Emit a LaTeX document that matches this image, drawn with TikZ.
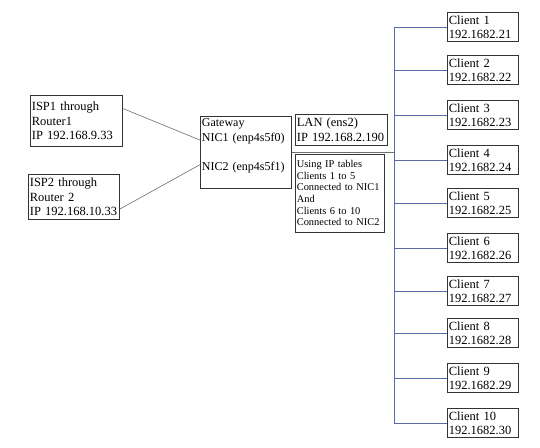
\documentclass[tikz,border=0pt]{standalone}
\usepackage{fontspec}
\setmainfont{Liberation Serif}
\usetikzlibrary{positioning}
\definecolor{netBorder}{HTML}{333333}
\definecolor{netUplink}{HTML}{6E6E6E}
\definecolor{netBus}{HTML}{5A6CA6}

\begin{document}
\begin{tikzpicture}[x=1pt, y=-1pt,
    netbox/.style={draw=netBorder, line width=0.7pt, fill=white, anchor=north west, align=left, inner xsep=1.5pt, inner ysep=1pt, font=\fontsize{12.5}{14.5}\selectfont},
    clientbox/.style={netbox, text width=68pt, minimum height=29pt, font=\fontsize{12.5}{14}\selectfont},
    uplink/.style={draw=netUplink, line width=0.6pt},
    buslink/.style={draw=netBus, line width=0.7pt}
]
    \useasboundingbox (0,0) rectangle (540,447);

    \node[netbox, text width=89pt, minimum height=51pt] (isp1) at (30,95) {ISP1 through\\Router1\\IP 192.168.9.33};
    \node[netbox, text width=88pt, minimum height=45pt] (isp2) at (28,174) {ISP2 through\\Router 2\\IP 192.168.10.33};

    \node[netbox, text width=88pt, minimum height=72pt, font=\fontsize{12}{15}\selectfont] (gw) at (200,116) {Gateway\\NIC1 (enp4s5f0)\\[14pt]NIC2 (enp4s5f1)\\\mbox{}};

    \node[netbox, text width=89pt, minimum height=31pt] (lan) at (295,114) {LAN (ens2)\\IP 192.168.2.190};
    \node[netbox, text width=86pt, minimum height=78pt, font=\fontsize{10.4}{11.7}\selectfont, below=8pt of lan.south west, anchor=north west] (rules) {Using IP tables\\Clients 1 to 5\\Connected to NIC1\\And\\Clients 6 to 10\\Connected to NIC2};

    \foreach \cy [count=\i] in {12,55,100,145,188,233,276,318,363,408} {
        \pgfmathtruncatemacro{\hostid}{20+\i}
        \node[clientbox] (c\i) at (447,\cy) {Client \i\\192.1682.\hostid};
    }

    \coordinate (bus) at (394,0);

    \draw[uplink] (isp1.15) -- (gw.165);
    \draw[uplink] (isp2.-15) -- (gw.195);
    \draw[uplink] (gw.east) -- (gw.east -| bus);

    \draw[buslink] (c1.west -| bus) -- (c10.west -| bus);
    \foreach \i in {1,...,10} {
        \draw[buslink] (c\i.west -| bus) -- (c\i.west);
    }
\end{tikzpicture}
\end{document}
